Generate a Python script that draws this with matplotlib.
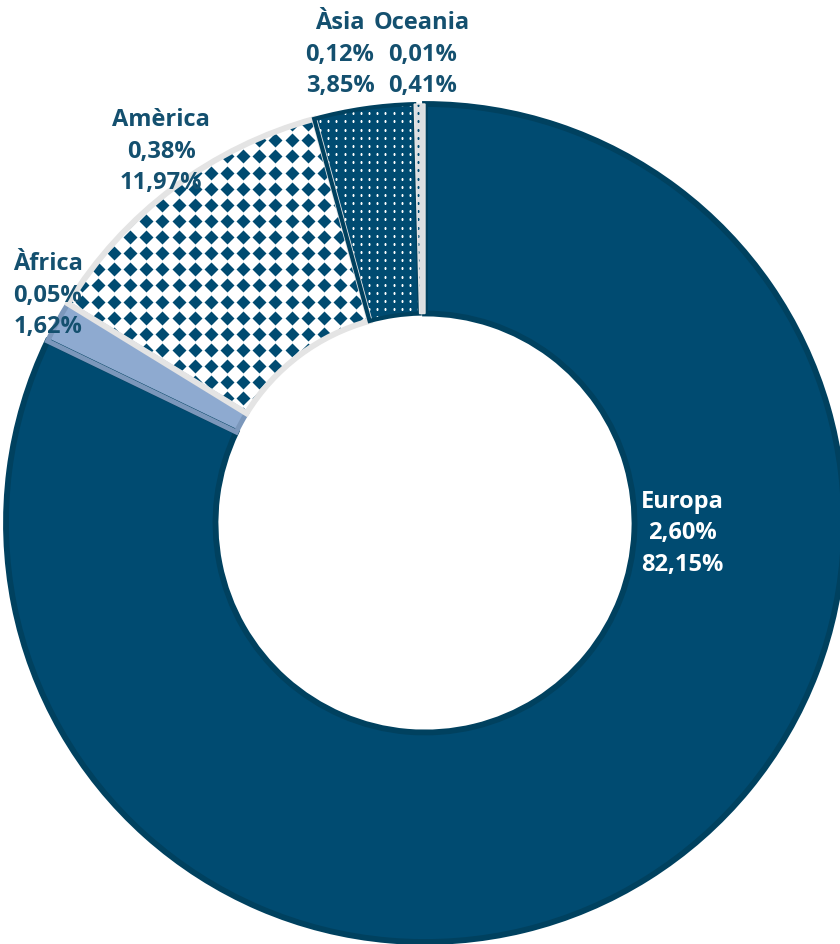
import matplotlib.pyplot as plt
from matplotlib.patches import Wedge
import numpy as np

# continents, clockwise from 12 o'clock
names = ["Europa", "Àfrica", "Amèrica", "Àsia", "Oceania"]
share = [2.60, 0.05, 0.38, 0.12, 0.01]
dist = [82.15, 1.62, 11.97, 3.85, 0.41]

navy = "#004b71"
txt_col = "#14506f"
face_cols = [navy, "#8eaad0", "white", navy, "#dcdfe2"]
edge_cols = ["#00415f", "#7b97bb", "#e4e4e4", "#00415f", "#e4e4e4"]
edge_w = [4.2, 3.6, 4.2, 3.0, 1.0]

# label centres (data coords) and colours
label_pos = [(0.615, -0.022), (-0.9, 0.545), (-0.63, 0.888), (-0.203, 1.12), (-0.007, 1.12)]
label_cols = ["white", txt_col, txt_col, txt_col, txt_col]

fig = plt.figure(figsize=(8.4, 9.45), dpi=100)
ax = fig.add_axes([0, 0, 1, 1])
ax.set_axis_off()

wedges, _ = ax.pie(dist, colors=face_cols, startangle=90, counterclock=False,
                   radius=1.0, wedgeprops=dict(width=0.5, linewidth=0))

def fmt(v):
    return f"{v:.2f}".replace(".", ",") + "%"

# textures clipped to wedges
def texture(w, step, ms, col, marker, z=2):
    g = np.arange(-1.05, 1.1, step)
    gx, gy = np.meshgrid(g, g)
    ln, = ax.plot(gx.ravel(), gy.ravel(), ls="none", marker=marker, ms=ms,
                  mfc=col, mec="none", zorder=z)
    ln.set_clip_path(w)

texture(wedges[2], 0.0385, 7.4, navy, "D")
texture(wedges[3], 0.0195, 1.8, "white", "s")

# outlines drawn on top (Oceania sliver redrawn above its neighbours' edges)
for i, (w, ec, lw) in enumerate(zip(wedges, edge_cols, edge_w)):
    z = 4 if i == 4 else 3
    if i == 4:
        top = Wedge(w.center, w.r, w.theta1, w.theta2, width=w.width,
                    fc=face_cols[4], ec="none", zorder=3.5)
        ax.add_patch(top)
        texture(top, 0.0195, 1.8, navy, "s", z=3.6)
    ax.add_patch(Wedge(w.center, w.r, w.theta1, w.theta2, width=w.width,
                       fc="none", ec=ec, lw=lw, zorder=z))

for i, n in enumerate(names):
    x, y = label_pos[i]
    ax.text(x, y, f"{n}\n{fmt(share[i])}\n{fmt(dist[i])}", ha="center", va="center",
            fontsize=17, fontweight="bold", family="Open Sans", color=label_cols[i],
            linespacing=1.42, zorder=5)

ax.set_xlim(-425 / 419, 415 / 419)
ax.set_ylim(-421 / 419, 524 / 419)
fig.savefig("out.png", dpi=100)
